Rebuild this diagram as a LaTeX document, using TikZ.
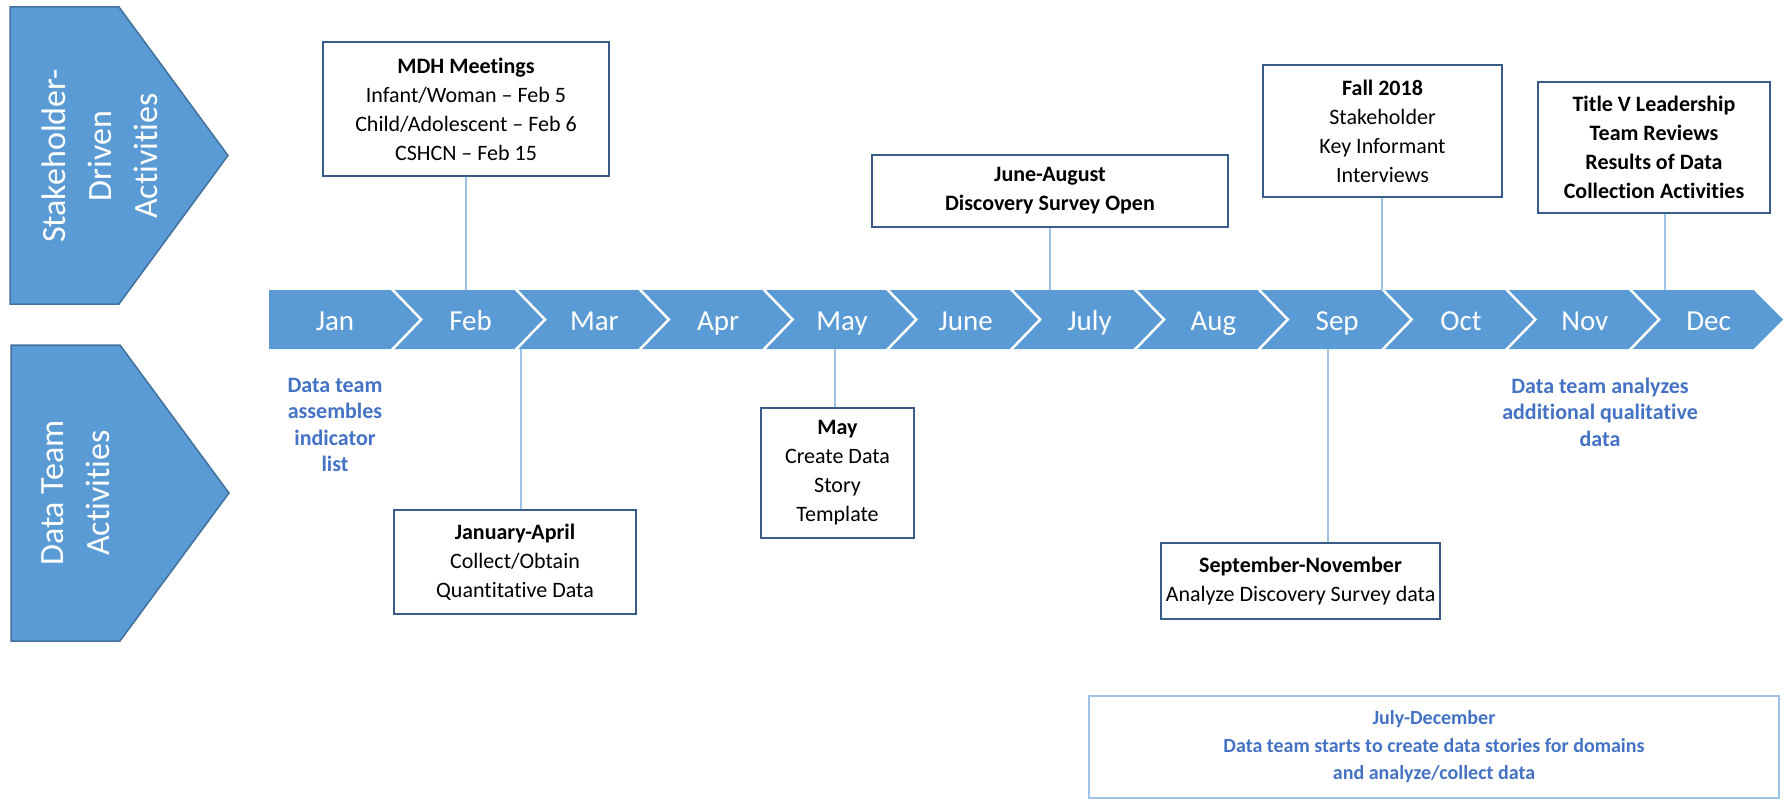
\documentclass[tikz,border=0pt]{standalone}
\usepackage{fontspec}
\setmainfont{Carlito}[Ligatures={NoCommon,NoRare,NoContextual},Contextuals=NoAlternate]
\definecolor{bandblue}{HTML}{5B9BD5}
\definecolor{chevline}{HTML}{41719C}
\definecolor{boxline}{HTML}{385D8A}
\definecolor{bluetext}{HTML}{4472C4}
\definecolor{lightline}{HTML}{9DC3E6}
\begin{document}
\begin{tikzpicture}[x=1pt,y=-1pt,
  chev/.style={fill=bandblue,draw=chevline,line width=1.5pt,line join=miter},
  chevtext/.style={rotate=90,text=white,align=center,font=\fontsize{34}{46}\selectfont},
  month/.style={text=white,anchor=base,font=\fontsize{29}{34}\selectfont},
  sep/.style={draw=white,line width=2.5pt},
  evbox/.style={draw=boxline,line width=2pt,fill=white,align=center,inner sep=0pt,font=\fontsize{22}{29}\selectfont},
  bluelbl/.style={text=bluetext,align=center,font=\bfseries\fontsize{22}{26.5}\selectfont},
  conn/.style={draw=lightline,line width=1.8pt}]
\useasboundingbox (0,0) rectangle (1786,800);

% left chevrons
\draw[chev] (10,7) -- (119,7) -- (228,155.5) -- (119,304) -- (10,304) -- cycle;
\node[chevtext] (sdlbl) at (100,156) {Stakeholder-\\Driven\\Activities};
\draw[chev] (11,345) -- (120,345) -- (229,493) -- (120,641) -- (11,641) -- cycle;
\node[chevtext] (dtlbl) at (76,493) {Data Team\\Activities};

% timeline band
\fill[bandblue] (269,290) -- (1753.5,290) -- (1783,319.5) -- (1753.5,349) -- (269,349) -- cycle;
\foreach \k in {0,...,10}{
  \draw[sep] ({391.7+\k*123.8},289) -- ({421.2+\k*123.8},319.5) -- ({391.7+\k*123.8},350);
}
\node[month] (m1) at (335,330) {Jan};
\foreach \k/\m in {1/Feb,2/Mar,3/Apr,4/May,5/June,6/July,7/Aug,8/Sep,9/Oct,10/Nov,11/Dec}{
  \node[month] (m\k) at ({391.7+(\k-1)*123.8+61.9+17},330) {\m};
}
\coordinate (bandtop) at (0,290);
\coordinate (bandbot) at (0,349);

% event boxes
\node[evbox,minimum width=286pt,minimum height=134pt] (mdh) at (466,109)
  {\textbf{MDH Meetings}\\Infant/Woman -- Feb 5\\Child/Adolescent -- Feb 6\\CSHCN -- Feb 15};
\node[evbox,minimum width=242pt,minimum height=104pt] (janapr) at (515,562)
  {\textbf{January-April}\\Collect/Obtain\\Quantitative Data};
\node[evbox,minimum width=153pt,minimum height=130pt] (may) at (837.5,473)
  {\textbf{May}\\Create Data\\Story\\Template};
\node[evbox,minimum width=356pt,minimum height=72pt] (junaug) at (1050,191)
  {\textbf{June-August}\\\textbf{Discovery Survey Open}};
\node[evbox,minimum width=239pt,minimum height=132pt] (fall) at (1382.5,131)
  {\textbf{Fall 2018}\\Stakeholder\\Key Informant\\Interviews};
\node[evbox,minimum width=232pt,minimum height=131pt] (titlev) at (1654,147.5)
  {\textbf{Title V Leadership}\\\textbf{Team Reviews}\\\textbf{Results of Data}\\\textbf{Collection Activities}};
\node[evbox,minimum width=279pt,minimum height=76pt] (sepnov) at (1300.5,581)
  {\textbf{September-November}\\Analyze Discovery Survey data};
\node[draw=lightline,line width=2pt,fill=white,minimum width=690pt,minimum height=102pt,inner sep=0pt,
  text=bluetext,align=center,font=\bfseries\fontsize{20}{27.5}\selectfont] (juldec) at (1434,747)
  {July-December\\Data team starts to create data stories for domains\\and analyze/collect data};

% blue labels
\node[bluelbl] (assemble) at (335,425) {Data team\\assembles\\indicator\\list};
\node[bluelbl] (analyzes) at (1600,412) {Data team analyzes\\additional qualitative\\data};

% connectors
\draw[conn] (mdh.south) -- (mdh.south |- bandtop);
\coordinate (c2) at (521,349);
\draw[conn] (c2) -- (c2 |- janapr.north);
\coordinate (c3) at (835,349);
\draw[conn] (c3) -- (c3 |- may.north);
\draw[conn] (junaug.south) -- (junaug.south |- bandtop);
\coordinate (c5) at (1382,290);
\draw[conn] (c5) -- (c5 |- fall.south);
\coordinate (c6) at (1665,290);
\draw[conn] (c6) -- (c6 |- titlev.south);
\coordinate (c7) at (1328,349);
\draw[conn] (c7) -- (c7 |- sepnov.north);
\end{tikzpicture}
\end{document}
